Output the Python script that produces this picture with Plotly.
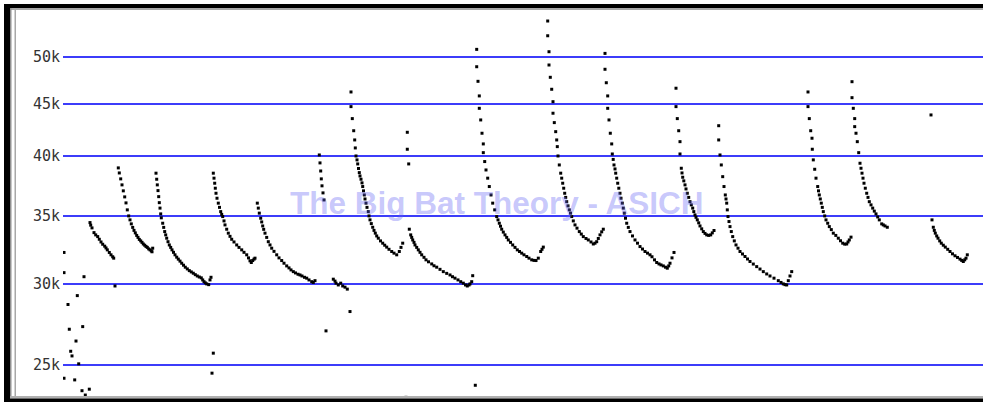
import math
import plotly.graph_objects as go

# ---- data: bat call pulses, time (arbitrary compressed units) vs frequency (kHz)
tick_khz = [25, 30, 35, 40, 45, 50]
tick_text = ["25k", "30k", "35k", "40k", "45k", "50k"]

scatter_ms = [1, 1, 1, 5, 6.3, 7.7, 9, 11.7, 13, 14.3, 15.7, 19, 19.7, 21, 22.3, 26.3]
scatter_khz = [32.21, 30.78, 24.27, 28.65, 27.10, 25.79, 25.52, 24.18, 26.39, 29.23, 25.07, 23.60, 27.26, 30.50, 23.37, 23.68]

call_a_ms = [27, 27.7, 29, 31, 32.7, 34.7, 36.3, 38, 39.7, 41.7, 43, 44.3, 46.3, 48, 49.7, 50.7]
call_a_khz = [34.45, 34.25, 34.04, 33.68, 33.51, 33.38, 33.18, 32.98, 32.81, 32.67, 32.54, 32.40, 32.21, 32.04, 31.90, 31.80]

call_b_ms = [55.3, 56.3, 57.7, 59, 60.3, 61.7, 63, 64.3, 65.7, 67, 68.3, 69.7, 71, 72.3, 73.7, 75, 76.3, 77.7, 79, 80.3, 81.7, 83, 84.3, 85.7, 87, 88.3, 89, 89.7]
call_b_khz = [38.96, 38.52, 38.01, 37.50, 37.00, 36.50, 36.01, 35.45, 34.97, 34.66, 34.35, 34.08, 33.85, 33.66, 33.47, 33.32, 33.17, 33.06, 32.95, 32.83, 32.74, 32.65, 32.58, 32.47, 32.40, 32.33, 32.26, 32.52]

call_c_ms = [93, 93.7, 94.3, 95, 95.7, 96.3, 97, 97.7, 98.3, 99.7, 100.7, 101.7, 102.7, 103.7, 105, 106.3, 107.7, 109, 110.5, 112, 113.7, 115.3, 117, 118.7, 120.5, 122.3, 124.3, 126.3, 128.3, 130.3, 132.3, 134.3, 136.3, 138.3, 139.7, 141, 142.3, 143.7, 145.7, 147, 148]
call_c_khz = [38.50, 37.98, 37.50, 37.02, 36.52, 36.03, 35.59, 35.13, 34.82, 34.40, 34.08, 33.76, 33.51, 33.26, 33.00, 32.76, 32.58, 32.40, 32.22, 32.04, 31.87, 31.73, 31.59, 31.44, 31.30, 31.16, 31.04, 30.92, 30.83, 30.74, 30.64, 30.55, 30.48, 30.42, 30.28, 30.16, 30.08, 30.01, 29.96, 30.28, 30.46]

call_d_ms = [150.3, 151, 151.7, 152.3, 153, 154, 155.3, 156.5, 157.7, 158.7, 159.7, 161, 162, 163.7, 165.3, 167, 168.7, 171, 173.7, 176, 178.7, 181, 183.7, 185.5, 187, 188.3, 189.7, 191, 192]
call_d_khz = [38.50, 38.07, 37.64, 37.22, 36.80, 36.39, 35.99, 35.65, 35.31, 35.09, 34.92, 34.58, 34.27, 33.94, 33.64, 33.40, 33.18, 32.98, 32.76, 32.58, 32.40, 32.22, 32.04, 31.82, 31.61, 31.49, 31.63, 31.73, 31.80]

call_e_ms = [194.3, 195.3, 196.3, 197.7, 198.7, 199.7, 200.7, 202, 203.7, 205.3, 207, 208.7, 211, 213.7, 216, 218.7, 221, 223.7, 226, 228, 230.3, 232.5, 235, 237, 239, 241.5, 243.7, 246, 248.7, 250.3, 252]
call_e_khz = [35.99, 35.59, 35.19, 34.79, 34.50, 34.19, 33.93, 33.64, 33.32, 33.00, 32.76, 32.52, 32.29, 32.04, 31.82, 31.63, 31.44, 31.25, 31.11, 30.97, 30.85, 30.76, 30.67, 30.62, 30.55, 30.46, 30.40, 30.28, 30.16, 30.11, 30.23]

call_f_ms = [256.3, 257, 257.7, 258.3, 259, 260, 261]
call_f_khz = [40.11, 39.40, 38.69, 38.01, 37.42, 36.83, 36.25]

call_g_ms = [288, 288, 289.3, 290.7, 291.7, 292.3, 293, 294, 294.7, 295.5, 296.3, 297, 298, 299, 299.7, 300.5, 301.3, 302, 303, 304, 305.3, 306, 307, 308.3, 309.7, 311, 312.3, 313.7, 315.3, 317.5, 319.7, 321.7, 323.7, 326, 328.7, 331, 333.7, 336.3, 338, 339.7]
call_g_khz = [46.22, 44.72, 43.53, 42.36, 41.49, 40.75, 40.02, 39.67, 39.31, 38.91, 38.55, 38.26, 37.98, 37.67, 37.36, 37.00, 36.66, 36.33, 35.99, 35.65, 35.31, 34.97, 34.66, 34.37, 34.09, 33.85, 33.64, 33.43, 33.26, 33.06, 32.89, 32.74, 32.60, 32.44, 32.28, 32.16, 32.04, 32.28, 32.58, 32.89]

call_h_ms = [344.3, 344.3, 345.7]
call_h_khz = [42.21, 40.63, 39.31]

call_i_ms = [346.3, 347.7, 348.7, 349.7, 351, 352, 353.7, 355.3, 357, 358.7, 361, 363, 365.5, 368.7, 371, 373.7, 377, 380.3, 383.7, 387, 389.5, 392, 395, 397.7, 400.3, 402.5, 404.3, 406, 407, 408.7]
call_i_khz = [33.94, 33.51, 33.32, 33.13, 32.95, 32.76, 32.58, 32.40, 32.22, 32.04, 31.86, 31.68, 31.54, 31.39, 31.26, 31.16, 31.01, 30.85, 30.73, 30.62, 30.50, 30.40, 30.28, 30.16, 30.06, 29.94, 29.87, 29.94, 30.01, 30.16]

call_j_ms = [413.7, 413.7, 415, 416.3, 416.3, 417.7, 419, 420.3, 420.3, 421.7, 423, 424.7, 426.3, 428, 429.7, 431.7, 433.7, 435, 436.3, 437.5, 438.7, 440.3, 442, 443.7, 445.3, 447.5, 449.7, 452, 454.3, 456.5, 458.7, 461, 463.7, 466, 468.7, 471, 473, 475.3, 477.7, 479, 480.3]
call_j_khz = [50.87, 48.92, 47.34, 45.81, 44.55, 43.40, 42.12, 41.12, 40.32, 39.52, 38.78, 38.07, 37.36, 36.66, 35.99, 35.45, 34.92, 34.66, 34.40, 34.17, 33.94, 33.72, 33.51, 33.32, 33.13, 32.95, 32.76, 32.58, 32.40, 32.28, 32.16, 32.04, 31.92, 31.80, 31.68, 31.64, 31.63, 31.80, 32.28, 32.44, 32.60]

call_k_ms = [484.7, 484.7, 486, 486, 487.3, 488.7, 490, 490, 491.3, 492.7, 493.7, 494.3, 495, 496.3, 497.7, 498.7, 499.7, 500.7, 501.7, 502.7, 503.7, 505, 506.3, 507.5, 508.7, 510.3, 512, 514, 516.3, 518.3, 520.3, 523, 525.3, 528, 530.3, 532, 533.7, 535.3, 537, 538.7, 540.3]
call_k_khz = [54.22, 52.45, 50.60, 49.11, 47.77, 46.50, 45.22, 44.06, 43.14, 42.27, 41.49, 40.87, 40.02, 39.22, 38.50, 38.07, 37.64, 37.22, 36.80, 36.46, 36.11, 35.77, 35.45, 35.19, 34.92, 34.58, 34.27, 34.02, 33.76, 33.57, 33.38, 33.24, 33.13, 32.98, 32.83, 32.89, 33.00, 33.24, 33.51, 33.74, 33.94]

call_l_ms = [542, 542, 543.3, 544.7, 544.7, 546, 547.3, 548.7, 549.3, 550.2, 551, 552, 552.7, 553.7, 554.7, 555.8, 557, 558, 559.3, 560.3, 561.3, 562.5, 563.7, 565.3, 567, 569.5, 572, 574.5, 577, 579.5, 582, 584.5, 587, 589, 591.5, 593.7, 596, 598, 600.3, 602.5, 604.3, 605.7, 607, 609, 611]
call_l_khz = [50.41, 48.64, 47.19, 45.81, 44.55, 43.40, 42.12, 41.12, 40.20, 39.71, 39.22, 38.87, 38.50, 38.07, 37.64, 37.22, 36.80, 36.39, 35.99, 35.59, 35.19, 34.79, 34.40, 34.08, 33.76, 33.43, 33.13, 32.89, 32.64, 32.46, 32.28, 32.16, 32.04, 31.90, 31.68, 31.49, 31.39, 31.32, 31.25, 31.16, 31.09, 31.25, 31.44, 31.82, 32.21]

call_m_ms = [613, 613, 614.3, 615.7, 617, 617, 618.3, 619, 619.7, 620.8, 622, 623, 624.3, 625.7, 627, 628.3, 629.7, 630.8, 632, 633, 634.3, 635.7, 637, 638.7, 640.3, 642, 643.7, 645.7, 647.7, 649.3, 651]
call_m_khz = [46.61, 44.72, 43.53, 42.36, 41.33, 40.20, 38.93, 38.52, 38.15, 37.84, 37.50, 37.16, 36.80, 36.46, 36.11, 35.85, 35.59, 35.31, 35.05, 34.86, 34.66, 34.43, 34.19, 33.97, 33.76, 33.62, 33.51, 33.47, 33.51, 33.66, 33.84]

call_n_ms = [655.7, 655.7, 657, 658.3, 659.7, 661, 662.3, 663, 663.7, 664.3, 665, 666, 667, 668.3, 669.7, 671.3, 673, 675, 677, 679.5, 682, 684.5, 687, 690.3, 693.7, 697, 700.3, 703.7, 707, 711, 715.3, 718, 720.3, 722, 723.7, 725.3, 727, 728.7]
call_n_khz = [42.84, 41.49, 40.11, 39.22, 38.20, 37.36, 36.66, 36.33, 35.99, 35.45, 34.92, 34.53, 34.14, 33.76, 33.38, 33.06, 32.76, 32.52, 32.28, 32.10, 31.92, 31.74, 31.56, 31.38, 31.20, 31.03, 30.85, 30.69, 30.55, 30.40, 30.23, 30.11, 30.01, 29.96, 29.94, 30.23, 30.55, 30.85]

call_o_ms = [745, 745, 746.3, 747.7, 749, 749.3, 750.3, 751.7, 753, 754.7, 755.5, 756.3, 757.3, 758.3, 759.3, 760.3, 761.7, 763, 764.7, 766.3, 768.3, 770.3, 772.8, 775.3, 777.5, 779.7, 781.7, 783.7, 785, 786.3, 788]
call_o_khz = [46.22, 44.72, 43.53, 42.36, 41.65, 40.63, 39.67, 38.84, 38.07, 37.36, 37.00, 36.66, 36.33, 35.99, 35.65, 35.31, 34.97, 34.66, 34.40, 34.14, 33.91, 33.64, 33.47, 33.26, 33.07, 32.89, 32.82, 32.83, 32.98, 33.13, 33.34]

call_p_ms = [789, 789, 790.3, 791.7, 791.7, 793, 794.3, 795.7, 797, 798, 799, 800, 801, 802.3, 803.7, 805, 806.3, 808, 809.7, 811.3, 813, 814.7, 816.3, 818.7, 820.3, 822, 824.3]
call_p_khz = [47.30, 45.63, 44.55, 43.53, 42.75, 42.12, 41.33, 40.32, 39.37, 38.93, 38.50, 38.07, 37.64, 37.22, 36.80, 36.46, 36.11, 35.85, 35.59, 35.35, 35.13, 34.89, 34.66, 34.35, 34.27, 34.19, 34.09]

call_q_ms = [869, 870.3, 871.3, 872.3, 873.7, 875, 876.7, 878.3, 880.3, 882.3, 884.7, 887, 889.5, 892, 894.5, 897, 898.7, 900.3, 901.7, 903, 904.3]
call_q_khz = [34.66, 34.09, 33.85, 33.64, 33.43, 33.26, 33.06, 32.89, 32.74, 32.60, 32.44, 32.28, 32.11, 31.97, 31.85, 31.73, 31.64, 31.56, 31.68, 31.80, 32.04]

stray_ms = [52, 149, 150.3, 263, 270.3, 272, 273, 275.3, 277.7, 279.7, 282, 284.3, 287, 343, 409.7, 412.3, 868]
stray_khz = [29.87, 24.55, 25.68, 27.00, 30.33, 30.20, 30.06, 29.94, 30.06, 29.87, 29.79, 29.66, 28.20, 23.25, 30.57, 23.89, 43.89]

watermark = "The Big Bat Theory - ASICH"

# ---- assemble
series = [
    (scatter_ms, scatter_khz), (call_a_ms, call_a_khz), (call_b_ms, call_b_khz),
    (call_c_ms, call_c_khz), (call_d_ms, call_d_khz), (call_e_ms, call_e_khz),
    (call_f_ms, call_f_khz), (call_g_ms, call_g_khz), (call_h_ms, call_h_khz),
    (call_i_ms, call_i_khz), (call_j_ms, call_j_khz), (call_k_ms, call_k_khz),
    (call_l_ms, call_l_khz), (call_m_ms, call_m_khz), (call_n_ms, call_n_khz),
    (call_o_ms, call_o_khz), (call_p_ms, call_p_khz), (call_q_ms, call_q_khz),
    (stray_ms, stray_khz),
]
xs, ys = [], []
for t, f in series:
    xs.extend(t)
    ys.extend(f)

W, H = 983, 402
ML, MR, MT, MB = 63, 0, 10, 6
PW, PH = W - ML - MR, H - MT - MB


def px_x(p):
    return (p - ML) / PW


def px_y(p):
    return (H - MB - p) / PH


fig = go.Figure()
fig.add_trace(go.Scatter(
    x=xs, y=ys, mode="markers",
    marker=dict(symbol="square", size=3, color="black", line=dict(width=0)),
    hoverinfo="skip", showlegend=False,
))

shapes = []


def frame_rect(x0, x1, y0, y1, color):
    shapes.append(dict(type="rect", xref="paper", yref="paper",
                       x0=px_x(x0), x1=px_x(x1), y0=px_y(y1), y1=px_y(y0),
                       fillcolor=color, line=dict(width=0), layer="above"))


frame_rect(4, 983, 4, 8, "#000000")
frame_rect(10, 983, 8, 10, "#a8a8a8")
frame_rect(4, 10, 4, 402, "#000000")
frame_rect(10, 11.5, 8, 398, "#909090")
frame_rect(14.5, 16, 10, 396, "#a8a8a8")
frame_rect(10, 983, 396, 398.5, "#b0b0b0")
frame_rect(4, 983, 398.5, 402, "#000000")

fig.update_layout(
    width=W, height=H, autosize=False,
    margin=dict(l=ML, r=MR, t=MT, b=MB, pad=0),
    paper_bgcolor="white", plot_bgcolor="white",
    showlegend=False,
    shapes=shapes,
    xaxis=dict(range=[0, PW], visible=False, fixedrange=True),
    yaxis=dict(
        type="log",
        range=[math.log10(23.32), math.log10(55.58)],
        tickvals=tick_khz, ticktext=tick_text,
        showgrid=True, gridcolor="#3c3cfa", gridwidth=2,
        zeroline=False, showline=False, ticks="",
        tickfont=dict(family="DejaVu Sans Mono", size=15, color="#333333"),
        ticklabelstandoff=2,
    ),
    annotations=[dict(
        text="<b>" + watermark + "</b>",
        xref="paper", yref="paper", x=px_x(496.5), y=px_y(203),
        xanchor="center", yanchor="middle", showarrow=False,
        font=dict(family="Liberation Sans, Arial", size=31.5, color="rgba(100,100,245,0.36)"),
    )],
)

fig.write_html("out.html")
